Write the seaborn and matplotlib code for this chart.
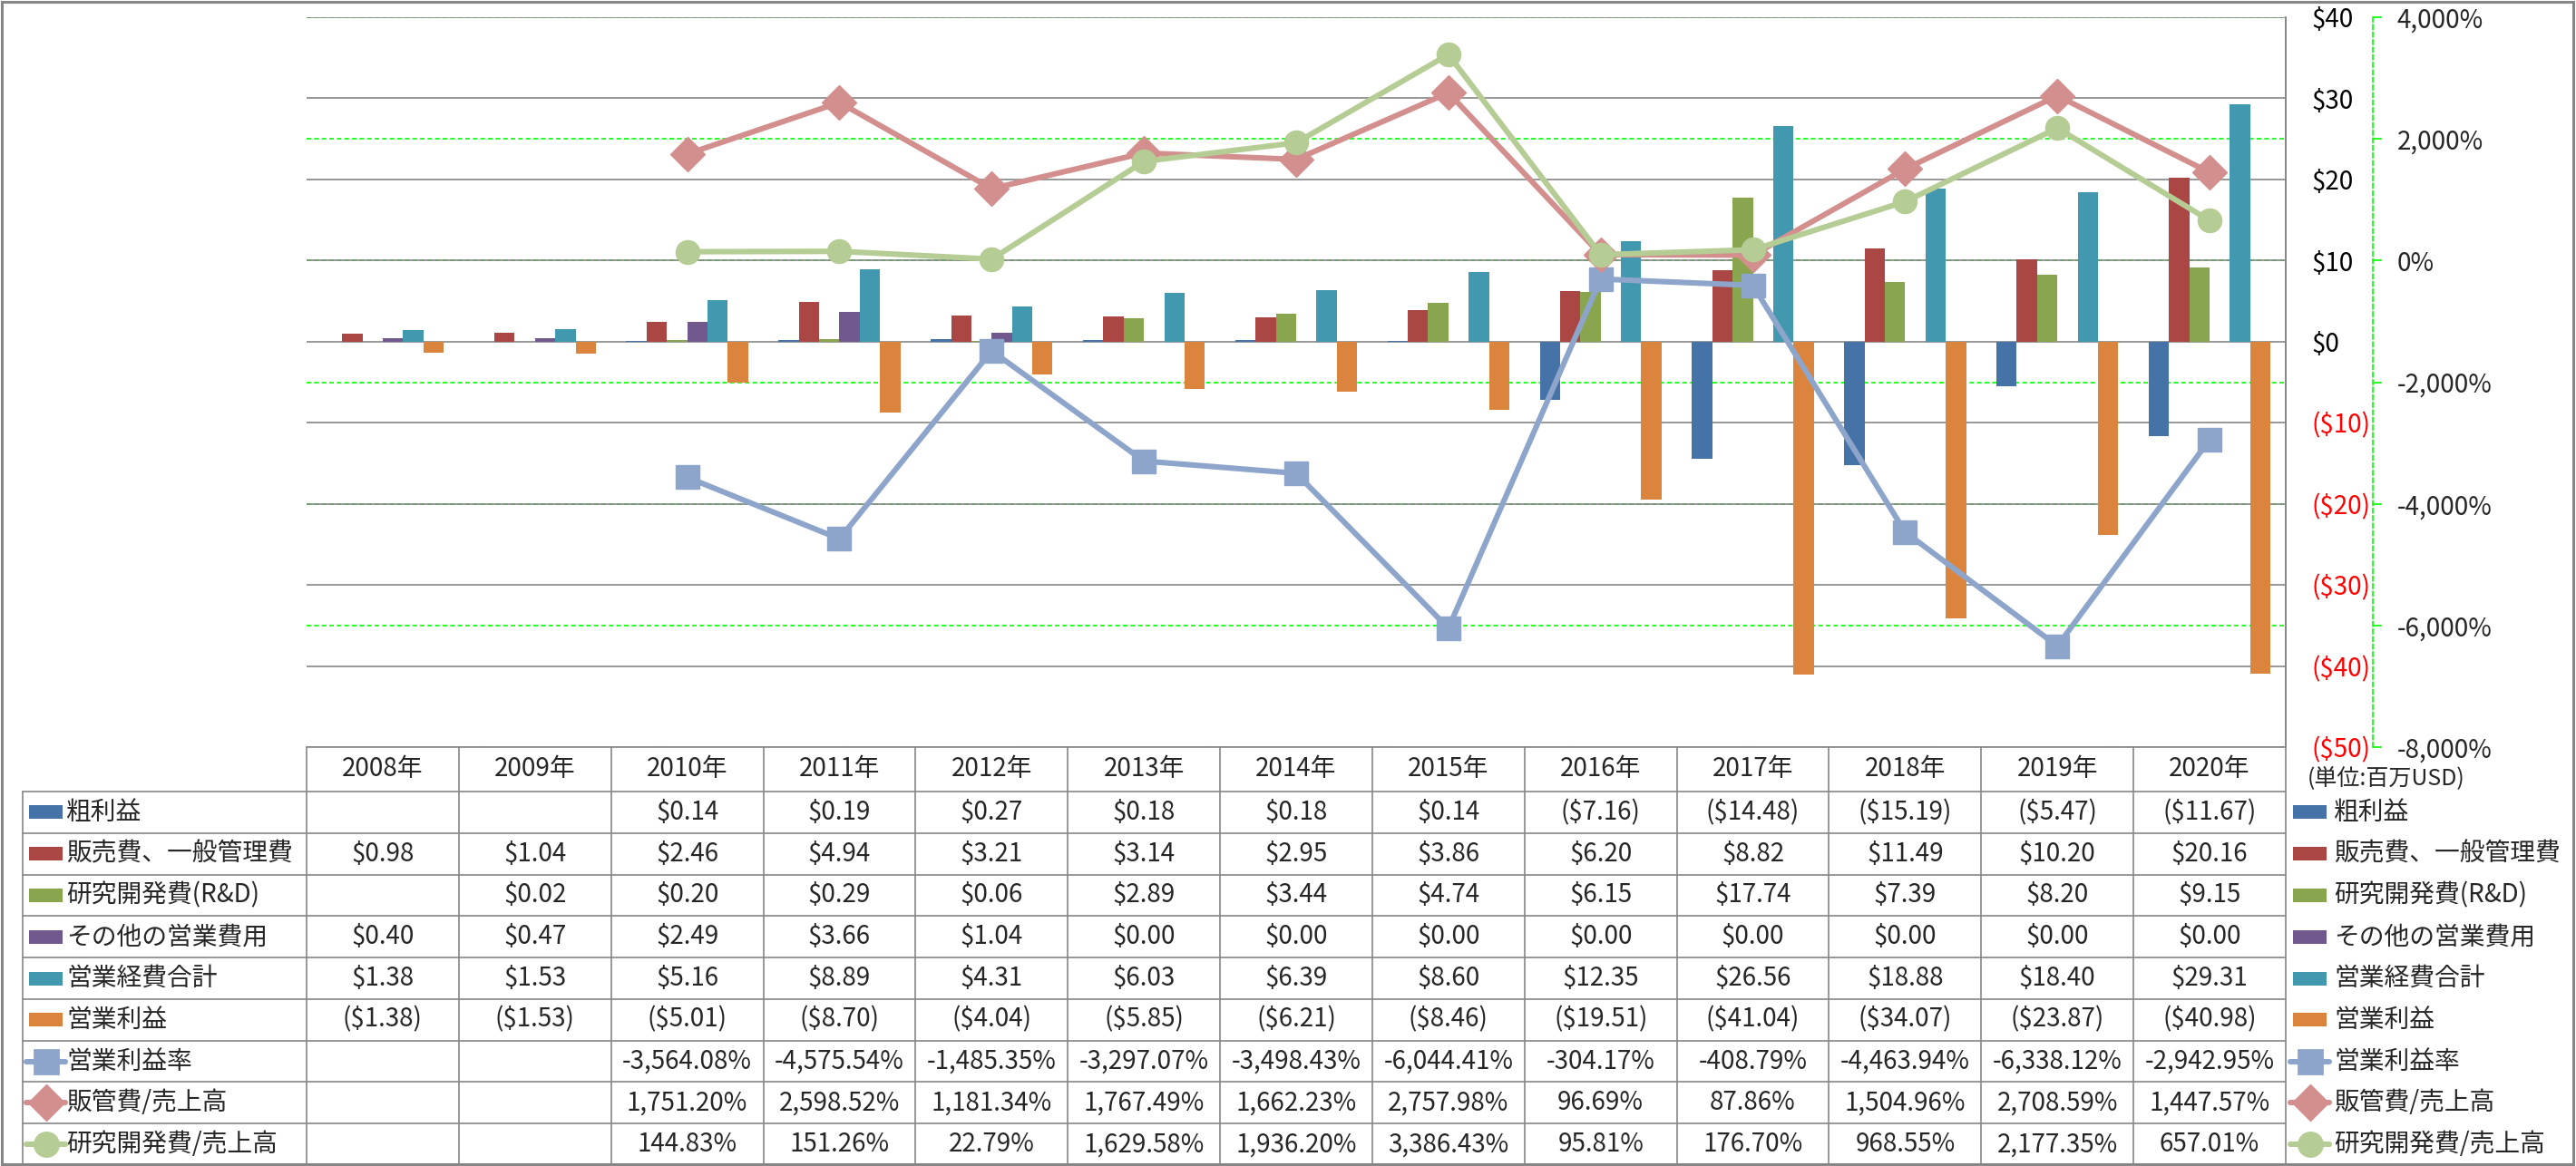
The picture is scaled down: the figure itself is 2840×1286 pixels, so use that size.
import numpy as np
import pandas as pd
import seaborn as sns
import matplotlib.pyplot as plt
from matplotlib.patches import Rectangle
from matplotlib.lines import Line2D
from matplotlib.transforms import blended_transform_factory

nan = np.nan

# ---- data (百万USD / %) ----
years = ['2008年', '2009年', '2010年', '2011年', '2012年', '2013年', '2014年',
         '2015年', '2016年', '2017年', '2018年', '2019年', '2020年']
gross = [nan, nan, 0.14, 0.19, 0.27, 0.18, 0.18, 0.14, -7.16, -14.48, -15.19, -5.47, -11.67]
sga = [0.98, 1.04, 2.46, 4.94, 3.21, 3.14, 2.95, 3.86, 6.20, 8.82, 11.49, 10.20, 20.16]
rnd = [nan, 0.02, 0.20, 0.29, 0.06, 2.89, 3.44, 4.74, 6.15, 17.74, 7.39, 8.20, 9.15]
other = [0.40, 0.47, 2.49, 3.66, 1.04, 0.00, 0.00, 0.00, 0.00, 0.00, 0.00, 0.00, 0.00]
opex = [1.38, 1.53, 5.16, 8.89, 4.31, 6.03, 6.39, 8.60, 12.35, 26.56, 18.88, 18.40, 29.31]
opinc = [-1.38, -1.53, -5.01, -8.70, -4.04, -5.85, -6.21, -8.46, -19.51, -41.04, -34.07, -23.87, -40.98]
op_margin = [nan, nan, -3564.08, -4575.54, -1485.35, -3297.07, -3498.43, -6044.41,
             -304.17, -408.79, -4463.94, -6338.12, -2942.95]
sga_ratio = [nan, nan, 1751.20, 2598.52, 1181.34, 1767.49, 1662.23, 2757.98,
             96.69, 87.86, 1504.96, 2708.59, 1447.57]
rnd_ratio = [nan, nan, 144.83, 151.26, 22.79, 1629.58, 1936.20, 3386.43,
             95.81, 176.70, 968.55, 2177.35, 657.01]

bar_names = ['粗利益', '販売費、一般管理費', '研究開発費(R&D)', 'その他の営業費用', '営業経費合計', '営業利益']
bar_colors = ['#4572A7', '#AA4643', '#89A54E', '#71588F', '#4198AF', '#DB843D']
line_names = ['営業利益率', '販管費/売上高', '研究開発費/売上高']
line_colors = ['#8EA5CB', '#D38F8E', '#B5CC94']
line_markers = ['s', 'D', 'o']

df = pd.DataFrame({'year': years, bar_names[0]: gross, bar_names[1]: sga, bar_names[2]: rnd,
                   bar_names[3]: other, bar_names[4]: opex, bar_names[5]: opinc,
                   line_names[0]: op_margin, line_names[1]: sga_ratio, line_names[2]: rnd_ratio})

sns.set_theme(style="white")
plt.rcParams['font.family'] = ['Noto Sans CJK JP', 'DejaVu Sans']

# layout in pixels of the 2840x1286 canvas
W, H = 2840, 1286
PL, PR, PT, PB = 338, 2520, 19, 824
TL, HB, TB = 25, 873, 1285
GREY = '#868686'
GREEN = '#00FF00'
FS = 10
MS = {'s': 9.4, 'D': 9.7, 'o': 9.4}

fig = plt.figure(figsize=(W / 200, H / 200), dpi=200)
ax = fig.add_axes([PL / W, 1 - PB / H, (PR - PL) / W, (PB - PT) / H])

long = df.melt(id_vars='year', value_vars=bar_names, var_name='series', value_name='value').dropna()
sns.barplot(data=long, x='year', y='value', hue='series', order=years, hue_order=bar_names,
            palette=bar_colors, saturation=1, width=0.8, errorbar=None, linewidth=0,
            legend=False, ax=ax)
ax.set_xlim(-0.5, len(years) - 0.5)
ax.set_ylim(-50, 40)
ax.set_xlabel('')
ax.set_ylabel('')
ax.tick_params(axis='x', bottom=False, labelbottom=False)
ax.yaxis.grid(True, color=GREY, lw=0.6)
ax.set_axisbelow(True)

# secondary axis (percent)
ax2 = ax.twinx()
pt = list(range(-8000, 4001, 2000))
ax2.set_ylim(-8000, 4000)
ax2.set_yticks(pt, labels=[f"{v:,}%" for v in pt])
for lbl, v in zip(ax2.get_yticklabels(), pt):
    lbl.set_color('#FF0000' if v < 0 else 'black')
ax2.tick_params(axis='y', length=3.6, width=0.6, color=GREEN, direction='out', pad=6, labelsize=FS)
for s in ['top', 'left', 'bottom']:
    ax2.spines[s].set_visible(False)
ax2.spines['right'].set_position(('outward', 34.6))
ax2.spines['right'].set_color(GREEN)
ax2.spines['right'].set_linestyle((0, (3, 2)))
ax2.spines['right'].set_linewidth(0.6)
ax2.grid(False)

# primary $ axis labels also sit on the right (twinx moves them left, so set after)
yt = list(range(-50, 41, 10))
ax.yaxis.tick_right()
ax.set_yticks(yt, labels=[f"${v}" if v >= 0 else f"(${-v})" for v in yt])
for lbl, v in zip(ax.get_yticklabels(), yt):
    lbl.set_color('#FF0000' if v < 0 else 'black')
ax.tick_params(axis='y', length=0, pad=10.4, labelsize=FS, labelleft=False, labelright=True)
for s in ['top', 'left', 'bottom']:
    ax.spines[s].set_visible(False)
ax.spines['right'].set_color(GREY)
ax.spines['right'].set_linewidth(0.6)

# green dashed gridlines for the percent axis, kept behind the bars
tr = blended_transform_factory(ax.transAxes, ax2.transData)
for v in pt:
    ax.plot([0, 1], [v, v], transform=tr, color=GREEN, lw=0.6, ls=(0, (3, 2)), zorder=0.4)

xs = np.arange(len(years))
for name, col, mk in zip(line_names, line_colors, line_markers):
    ok = df[name].notna().values
    sns.lineplot(x=xs[ok], y=df[name].values[ok], ax=ax2, color=col, lw=2.2,
                 marker=mk, markersize=MS[mk], markeredgecolor=col, markeredgewidth=0.5)
ax2.set_xlim(-0.5, len(years) - 0.5)

# ---- data table + legends ----
lay = fig.add_axes([0, 0, 1, 1])
lay.set_xlim(0, W)
lay.set_ylim(H, 0)
lay.axis('off')

colw = (PR - PL) / len(years)
ey = np.linspace(HB, TB, 10)
rc = (ey[:-1] + ey[1:]) / 2

kw = dict(color=GREY, lw=0.6)
lay.add_line(Line2D([PL, PR], [PB, PB], **kw))
for y in ey:
    lay.add_line(Line2D([TL, PR], [y, y], **kw))
lay.add_line(Line2D([TL, TL], [HB, TB], **kw))
for i in range(len(years) + 1):
    x = PL + i * colw
    lay.add_line(Line2D([x, x], [PT if i == len(years) else PB, TB], **kw))

for i, yr in enumerate(years):
    lay.text(PL + (i + 0.5) * colw, (PB + HB) / 2, yr, ha='center', va='center', fontsize=FS)


def money(v):
    if np.isnan(v):
        return ''
    return f"${v:.2f}" if v >= 0 else f"(${-v:.2f})"


def pct(v):
    return '' if np.isnan(v) else f"{v:,.2f}%"


rows = [(n, 'bar', c, None) for n, c in zip(bar_names, bar_colors)] + \
       [(n, 'line', c, m) for n, c, m in zip(line_names, line_colors, line_markers)]

for r, (name, kind, col, mk) in enumerate(rows):
    y = rc[r]
    fmt = money if kind == 'bar' else pct
    for i, v in enumerate(df[name].values):
        lay.text(PL + (i + 0.5) * colw, y, fmt(v), ha='center', va='center', fontsize=FS)
    for x0, tx in [(32, 73), (2528, 2573)]:
        if kind == 'bar':
            lay.add_patch(Rectangle((x0, y - 7.5), 37, 15, color=col, lw=0))
        else:
            lay.add_line(Line2D([x0 - 3, x0 + 40], [y, y], color=col, lw=2.2))
            lay.add_line(Line2D([x0 + 18.5], [y], marker=mk, ms=MS[mk], color=col, mec=col))
        lay.text(tx, y, name, ha='left', va='center', fontsize=FS)

lay.text(2544, 858, '(単位:百万USD)', ha='left', va='center', fontsize=9)

# outer frame
lay.add_patch(Rectangle((1.5, 1.5), W - 4.5, H - 3.5, fill=False, ec=GREY, lw=1.1))

plt.savefig('out.png', dpi=200)
